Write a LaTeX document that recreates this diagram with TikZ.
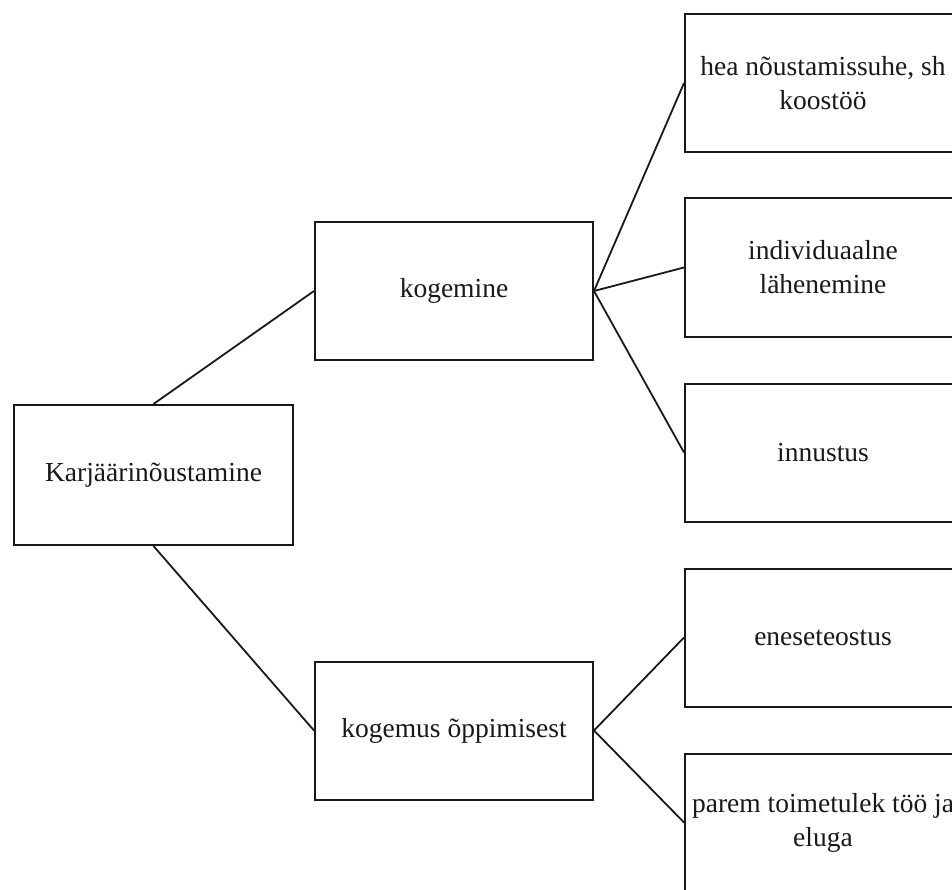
\documentclass[tikz,border=0pt]{standalone}
\usepackage{fontspec}
\setmainfont{Liberation Serif}
\begin{document}
\begin{tikzpicture}[x=1pt,y=-1pt,
  box/.style={draw=black!90, line width=2pt, fill=white, inner sep=0pt, align=center,
    text=black!90, font=\fontsize{27.5}{34}\selectfont},
  rootbox/.style={box, minimum width=279pt, minimum height=140pt},
  midbox/.style={box, minimum width=278pt, minimum height=138pt},
  leafbox/.style={box, minimum width=276pt, minimum height=138pt},
  link/.style={draw=black!90, line width=1.8pt}]
\useasboundingbox (0,0) rectangle (952,890);
\clip (0,0) rectangle (952,890);
\node[rootbox] (root) at (153.5,475) {Karjäärinõustamine};
\node[midbox] (kog) at (454,291) {kogemine};
\node[midbox] (kop) at (454,730.5) {kogemus õppimisest};
\node[leafbox] (l1) at (823,83) {hea nõustamissuhe, sh\\koostöö};
\node[leafbox] (l2) at (823,267.5) {individuaalne\\lähenemine};
\node[leafbox] (l3) at (823,452.5) {innustus};
\node[leafbox] (l4) at (823,637.5) {eneseteostus};
\node[leafbox] (l5) at (823,822.5) {parem toimetulek töö ja\\eluga};
\draw[link] (root.north) -- (kog.west);
\draw[link] (root.south) -- (kop.west);
\draw[link] (kog.east) -- (l1.west);
\draw[link] (kog.east) -- (l2.west);
\draw[link] (kog.east) -- (l3.west);
\draw[link] (kop.east) -- (l4.west);
\draw[link] (kop.east) -- (l5.west);
\end{tikzpicture}
\end{document}
